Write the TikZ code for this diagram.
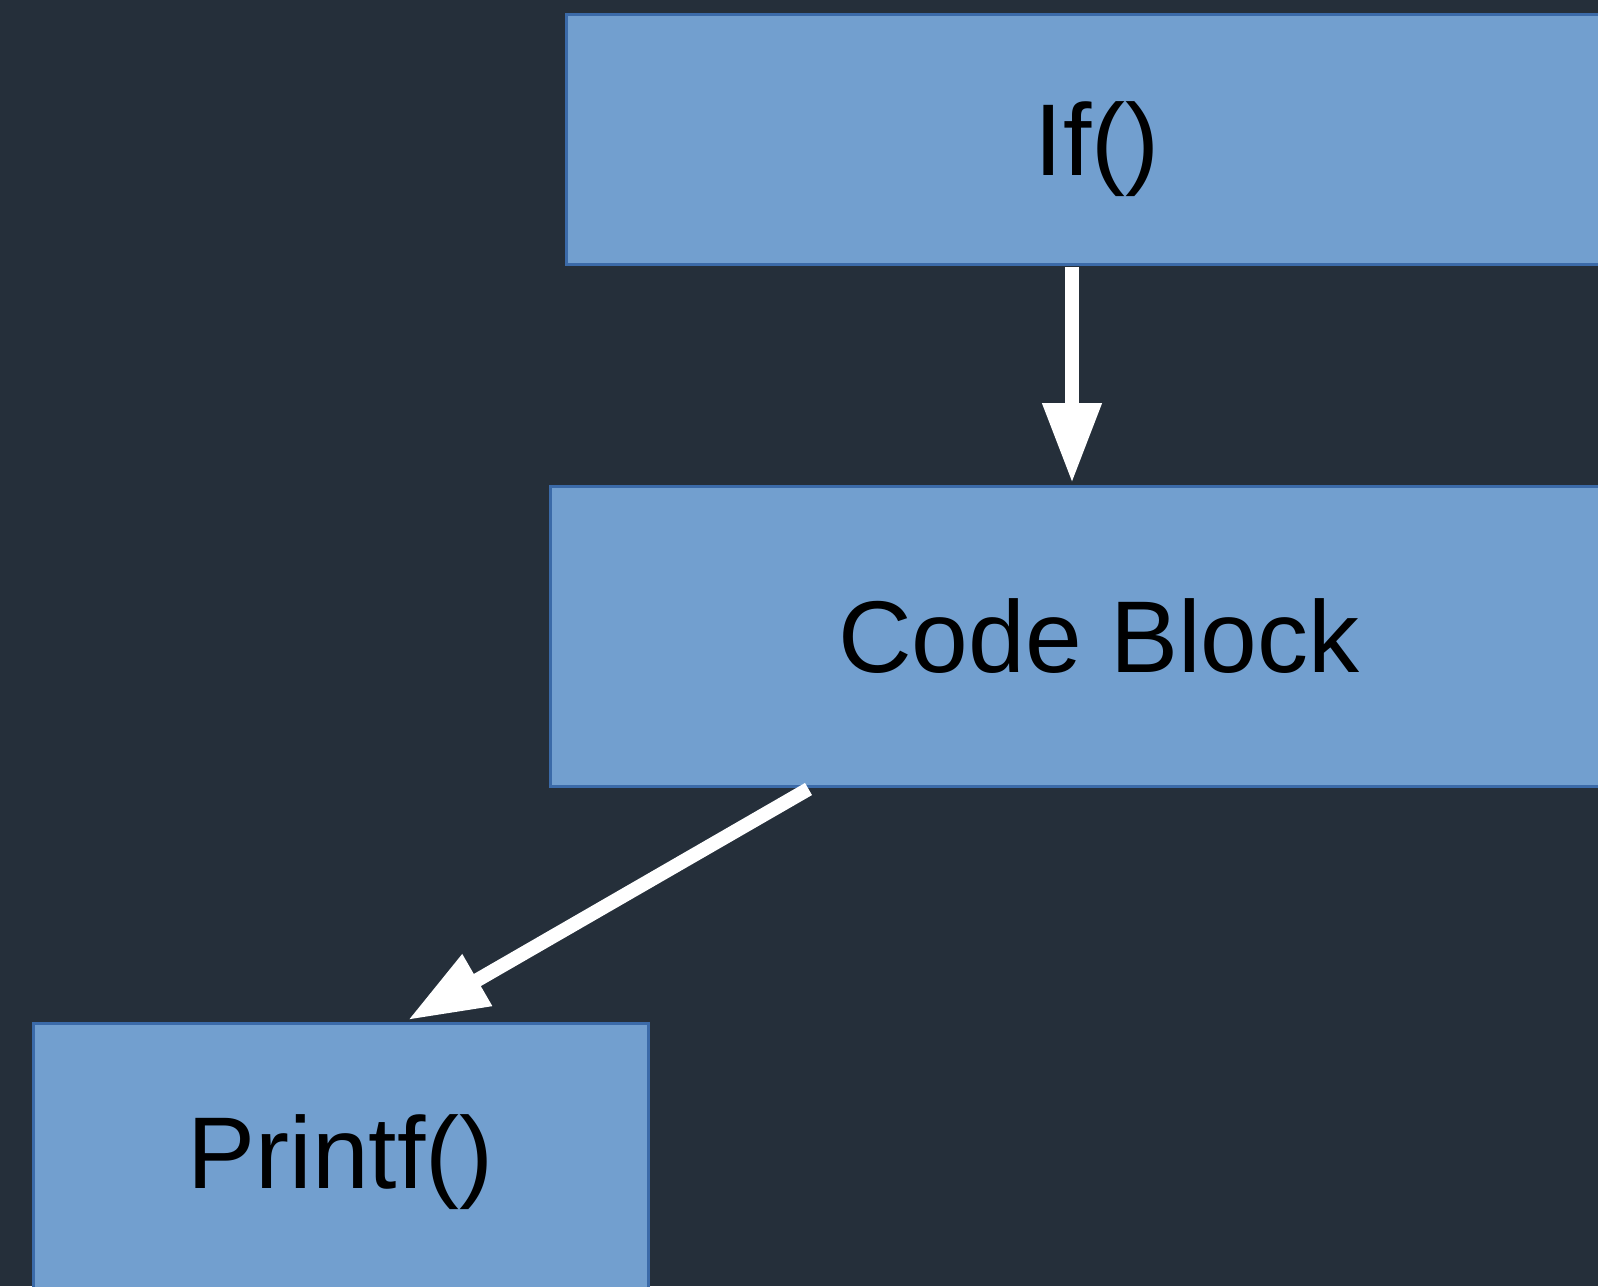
\documentclass[tikz,border=0pt]{standalone}
\usepackage{fontspec}
\setmainfont{Liberation Sans}
\usetikzlibrary{arrows.meta}

\definecolor{canvas}{RGB}{37,47,58}
\definecolor{boxfill}{RGB}{114,159,207}
\definecolor{boxline}{RGB}{59,106,168}

\tikzset{
  block/.style={rectangle, draw=boxline, line width=3pt, fill=boxfill,
    text=black, inner sep=0pt, font=\fontsize{102}{120}\selectfont},
  flow/.style={draw=white, line width=14pt,
    -{Triangle[length=80pt,width=56pt]}, shorten >=0pt}
}

\begin{document}
\begin{tikzpicture}[x=1pt,y=-1pt]
  % canvas
  \fill[canvas] (0,0) rectangle (1598,1286);
  \useasboundingbox (0,0) rectangle (1598,1286);
  \clip (0,0) rectangle (1598,1286);

  % blocks
  \node[block, text depth=0pt, minimum width=1062pt, minimum height=250pt] (ifbox) at (1097,139) {If()};
  \node[block, minimum width=1098pt, minimum height=300pt] (code) at (1099,636) {Code Block};
  \node[block, minimum width=615pt, minimum height=278pt] (printf) at (340.5,1162) {Printf()};

  % connectors
  \draw[flow] ([xshift=-25pt,yshift=-1.5pt]ifbox.south) -- ([xshift=-27pt,yshift=1.5pt]code.north);
  \draw[flow] ([xshift=260pt,yshift=-1.5pt]code.south west) -- ([xshift=67.5pt,yshift=1.5pt]printf.north);
\end{tikzpicture}
\end{document}
